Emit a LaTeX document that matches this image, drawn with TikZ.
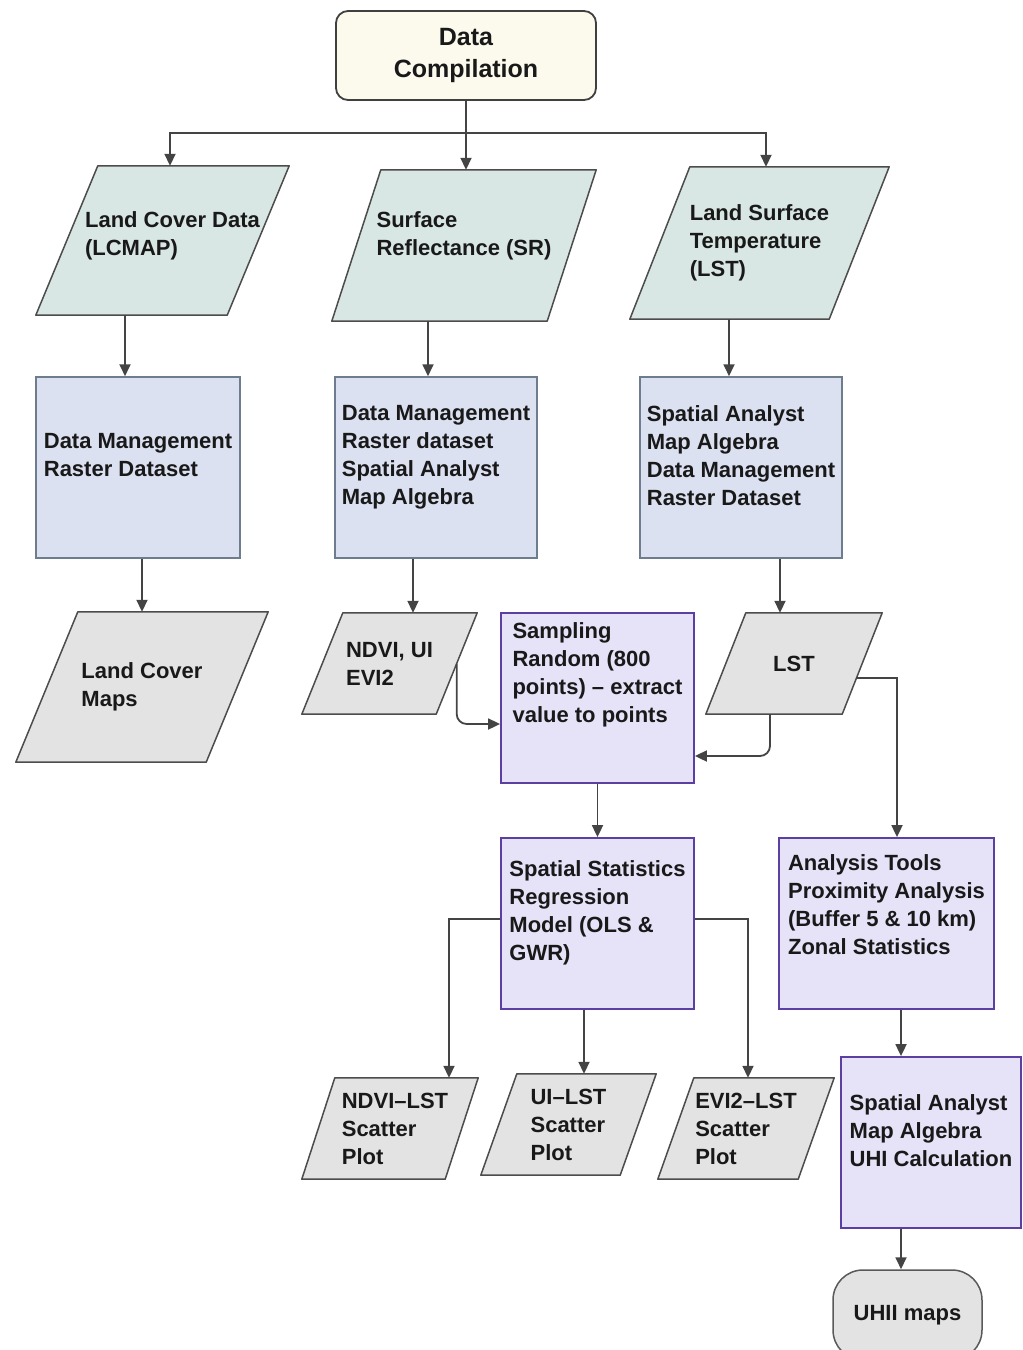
\documentclass[tikz,border=0pt]{standalone}
\usepackage{fontspec}
\setmainfont{Liberation Sans}
\usetikzlibrary{positioning,arrows.meta,backgrounds}
\definecolor{creamfill}{HTML}{FCFAEC}
\definecolor{tealfill}{HTML}{D9E7E4}
\definecolor{bluefill}{HTML}{DCE1F1}
\definecolor{bluedraw}{HTML}{6E7D8E}
\definecolor{purpfill}{HTML}{E6E2F7}
\definecolor{purpdraw}{HTML}{5B3FA3}
\definecolor{greyfill}{HTML}{E3E3E3}
\definecolor{inkline}{HTML}{444444}
\tikzset{
  txt/.style     ={font=\fontsize{22}{28}\selectfont\bfseries, align=left, text=black!90, inner sep=0pt},
  startbox/.style={txt, font=\fontsize{25}{32}\selectfont\bfseries, align=center, draw=black!75,
                   fill=creamfill, rounded corners=12pt, line width=1.8pt},
  endbox/.style  ={txt, align=center, draw=black!65, fill=greyfill, rounded corners=30pt, line width=1.5pt},
  para/.style    ={txt},
  paraout/.style ={draw=black!70, line width=1.5pt, line join=round},
  dmbox/.style   ={txt, draw=bluedraw, fill=bluefill, line width=1.5pt},
  opbox/.style   ={txt, draw=purpdraw, fill=purpfill, line width=1.8pt},
  ln/.style      ={draw=inkline, line width=1.8pt},
  ar/.style      ={-{Triangle[length=12pt,width=11pt]}, draw=inkline, line width=1.8pt},
}
\begin{document}
\begin{tikzpicture}[x=1pt,y=-1pt]
\useasboundingbox (0,0) rectangle (1023,1350);

\node[startbox,minimum width=260,minimum height=89] (dc) at (466,55.5) {Data\\Compilation};

\node[para,minimum width=233,minimum height=149,text depth=13pt] (lc) at (172.5,240.5) {Land Cover Data\\(LCMAP)};
\node[para,minimum width=264,minimum height=151,text depth=23pt] (sr) at (464,245.5) {Surface\\Reflectance (SR)};
\node[para,minimum width=259,minimum height=152] (lst) at (759.5,243) {Land Surface\\Temperature\\(LST)};

\node[dmbox,minimum width=204,minimum height=181,text depth=26pt] (dm1) at (138,467.5) {Data Management\\Raster Dataset};
\node[dmbox,minimum width=202,minimum height=181,text depth=26pt] (dm2) at (436,467.5) {Data Management\\Raster dataset\\Spatial Analyst\\Map Algebra};
\node[dmbox,minimum width=202,minimum height=181,text depth=24pt] (dm3) at (741,467.5) {Spatial Analyst\\Map Algebra\\Data Management\\Raster Dataset};

\node[para,minimum width=252,minimum height=150] (lcm) at (142,687) {Land Cover\\Maps};
\node[para,minimum width=175,minimum height=101] (ndvi) at (389.5,663.5) {NDVI, UI\\EVI2};
\node[opbox,minimum width=193,minimum height=170,text depth=50pt] (samp) at (597.5,698) {Sampling\\Random (800\\points) -- extract\\value to points};
\node[para,minimum width=176,minimum height=101] (lsts) at (794,663.5) {LST};

\node[opbox,minimum width=193,minimum height=171,text depth=25pt] (sst) at (597.5,923.5) {Spatial Statistics\\Regression\\Model (OLS \&\\GWR)};
\node[opbox,minimum width=215,minimum height=171,text depth=37pt] (anal) at (886.5,923.5) {Analysis Tools\\Proximity Analysis\\(Buffer 5 \& 10 km)\\Zonal Statistics};

\node[para,minimum width=166,minimum height=101] (ndvil) at (395,1128.5) {NDVI--LST\\Scatter\\Plot};
\node[para,minimum width=175,minimum height=101] (uil) at (568.5,1124.5) {UI--LST\\Scatter\\Plot};
\node[para,minimum width=176,minimum height=101] (evil) at (746,1128.5) {EVI2--LST\\Scatter\\Plot};
\node[opbox,minimum width=180,minimum height=171,text depth=24pt] (uhi) at (931,1142.5) {Spatial Analyst\\Map Algebra\\UHI Calculation};
\node[endbox,minimum width=149,minimum height=90] (uhii) at (907.5,1315) {UHII maps};

\begin{scope}[on background layer]
\foreach \n/\s/\e in {lc/62/20,sr/49/0,lst/60/0}
  \draw[paraout,fill=tealfill] ([xshift=-\e pt]\n.south west) -- ([xshift=-\s pt]\n.south east)
    -- (\n.north east) -- ([xshift=\s pt-\e pt]\n.north west) -- cycle;
\foreach \n/\s/\e in {lcm/62/0,ndvi/41/0,lsts/40/0,ndvil/33/10,uil/36/0,evil/36/0}
  \draw[paraout,fill=greyfill] ([xshift=-\e pt]\n.south west) -- ([xshift=-\s pt]\n.south east)
    -- (\n.north east) -- ([xshift=\s pt-\e pt]\n.north west) -- cycle;
\end{scope}

\coordinate (split) at (466,133);
\draw[ln] (dc.south) -- (split);
\draw[ar] (split) -| ([xshift=-2.5pt]lc.north);
\draw[ar] (split) -| ([xshift=2pt]sr.north);
\draw[ar] (split) -| ([xshift=6.5pt]lst.north);

\draw[ar] ([xshift=-47.5pt]lc.south) -- ([xshift=-13pt]dm1.north);
\draw[ar] ([xshift=-36pt]sr.south) -- ([xshift=-8pt]dm2.north);
\draw[ar] ([xshift=-30.5pt]lst.south) -- ([xshift=-12pt]dm3.north);

\draw[ar] ([xshift=4pt]dm1.south) -- (lcm.north);
\draw[ar] ([xshift=-23pt]dm2.south) -- ([xshift=23.5pt]ndvi.north);
\draw[ar] ([xshift=39pt]dm3.south) -- ([xshift=-14pt]lsts.north);

\draw[ar,rounded corners=10pt] ([xshift=-20.5pt]ndvi.east) |- ([yshift=-26pt]samp.west);
\draw[ar,rounded corners=10pt] ([xshift=-24pt]lsts.south) |- ([yshift=-58pt]samp.east);
\draw[ar] ([xshift=-26pt,yshift=-14.5pt]lsts.east) -| ([xshift=10.5pt]anal.north);

\draw[ar] (samp.south) -- (sst.north);
\draw[ar] ([yshift=4.5pt]sst.west) -| ([xshift=54pt]ndvil.north);
\draw[ar] ([xshift=-13.5pt]sst.south) -- ([xshift=15.5pt]uil.north);
\draw[ar] ([yshift=4.5pt]sst.east) -| ([xshift=2pt]evil.north);

\draw[ar] ([xshift=14.5pt]anal.south) -- ([xshift=-30pt]uhi.north);
\draw[ar] ([xshift=-30pt]uhi.south) -- ([xshift=-6.5pt]uhii.north);
\end{tikzpicture}
\end{document}
